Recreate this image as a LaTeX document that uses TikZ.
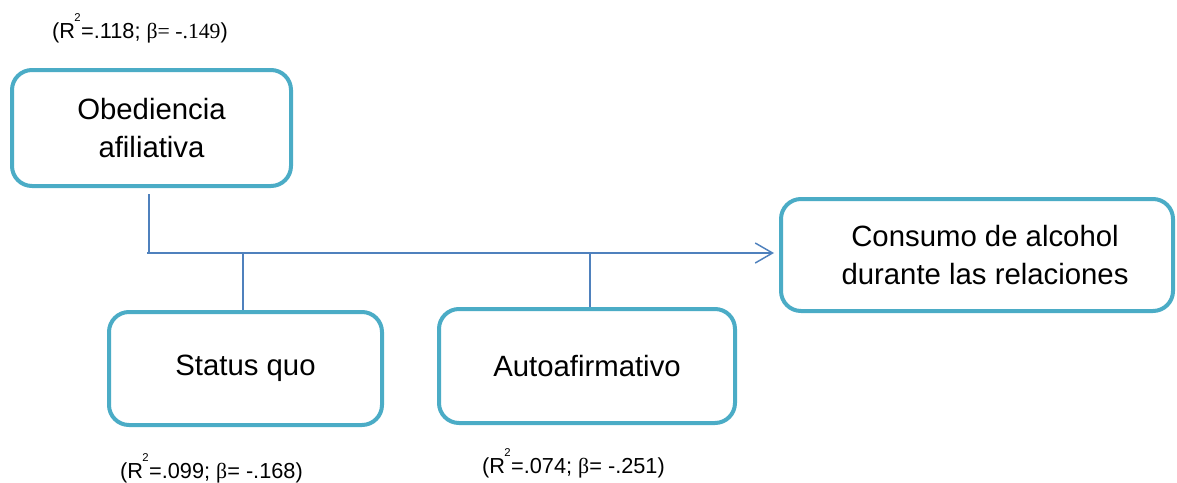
\documentclass[tikz,border=0pt]{standalone}
\usepackage{fontspec}
\setmainfont{Liberation Sans}
\newfontfamily\serifb{Liberation Serif}
\usetikzlibrary{arrows.meta}
\definecolor{boxcol}{RGB}{75,172,198}
\definecolor{linecol}{RGB}{79,129,189}
\newcommand{\rsq}{R\kern-0.5pt\raisebox{12.5pt}{\fontsize{8.5}{8.5}\selectfont 2}\kern0.3pt}
\tikzset{
  vbox/.style={draw=boxcol, line width=3pt, rounded corners=15pt, fill=white,
    align=center, inner sep=0pt, font=\fontsize{22}{29}\selectfont},
  conn/.style={draw=linecol, line width=1.1pt},
  lbl/.style={inner sep=0pt, anchor=base, font=\fontsize{16.3}{19}\selectfont},
}
\begin{document}
\begin{tikzpicture}[x=0.75pt, y=-0.75pt]
\useasboundingbox (0,0) rectangle (1177,482);
\node[vbox, minimum width=279*0.75pt, minimum height=116*0.75pt] (obed) at (151.5,128) {Obediencia\\afiliativa};
\node[vbox, minimum width=392*0.75pt, minimum height=112*0.75pt] (cons) at (977,255) {\hspace*{12pt}Consumo de alcohol\\\hspace*{12pt}durante las relaciones};
\node[vbox, minimum width=273*0.75pt, minimum height=113*0.75pt] (stat) at (245.5,368.5) {Status quo};
\node[vbox, minimum width=296*0.75pt, minimum height=114*0.75pt] (auto) at (587,366) {Autoafirmativo};

\node[lbl] (l1) at (140,38) {(\rsq=.118; {\serifb β= -.149})};
\node[lbl] (l2) at (211.5,478) {(\rsq=.099; {\serifb β}= -.168)};
\node[lbl] (l3) at (573.5,473) {(\rsq=.074; {\serifb β}= -.251)};

\coordinate (j0) at (149,253);
\coordinate (jl) at (147,253);
\coordinate (j1) at (243,253);
\coordinate (j2) at (590,253);
\coordinate (top0) at (149,194);
\draw[conn] (top0) -- (j0);
\draw[conn, -{Straight Barb[length=13pt, width=15pt, line width=1.1pt]}, shorten >=3.75pt] (jl) -- (jl -| cons.west);
\draw[conn] (j1) -- (j1 |- stat.north);
\draw[conn] (j2) -- (j2 |- auto.north);
\end{tikzpicture}
\end{document}
